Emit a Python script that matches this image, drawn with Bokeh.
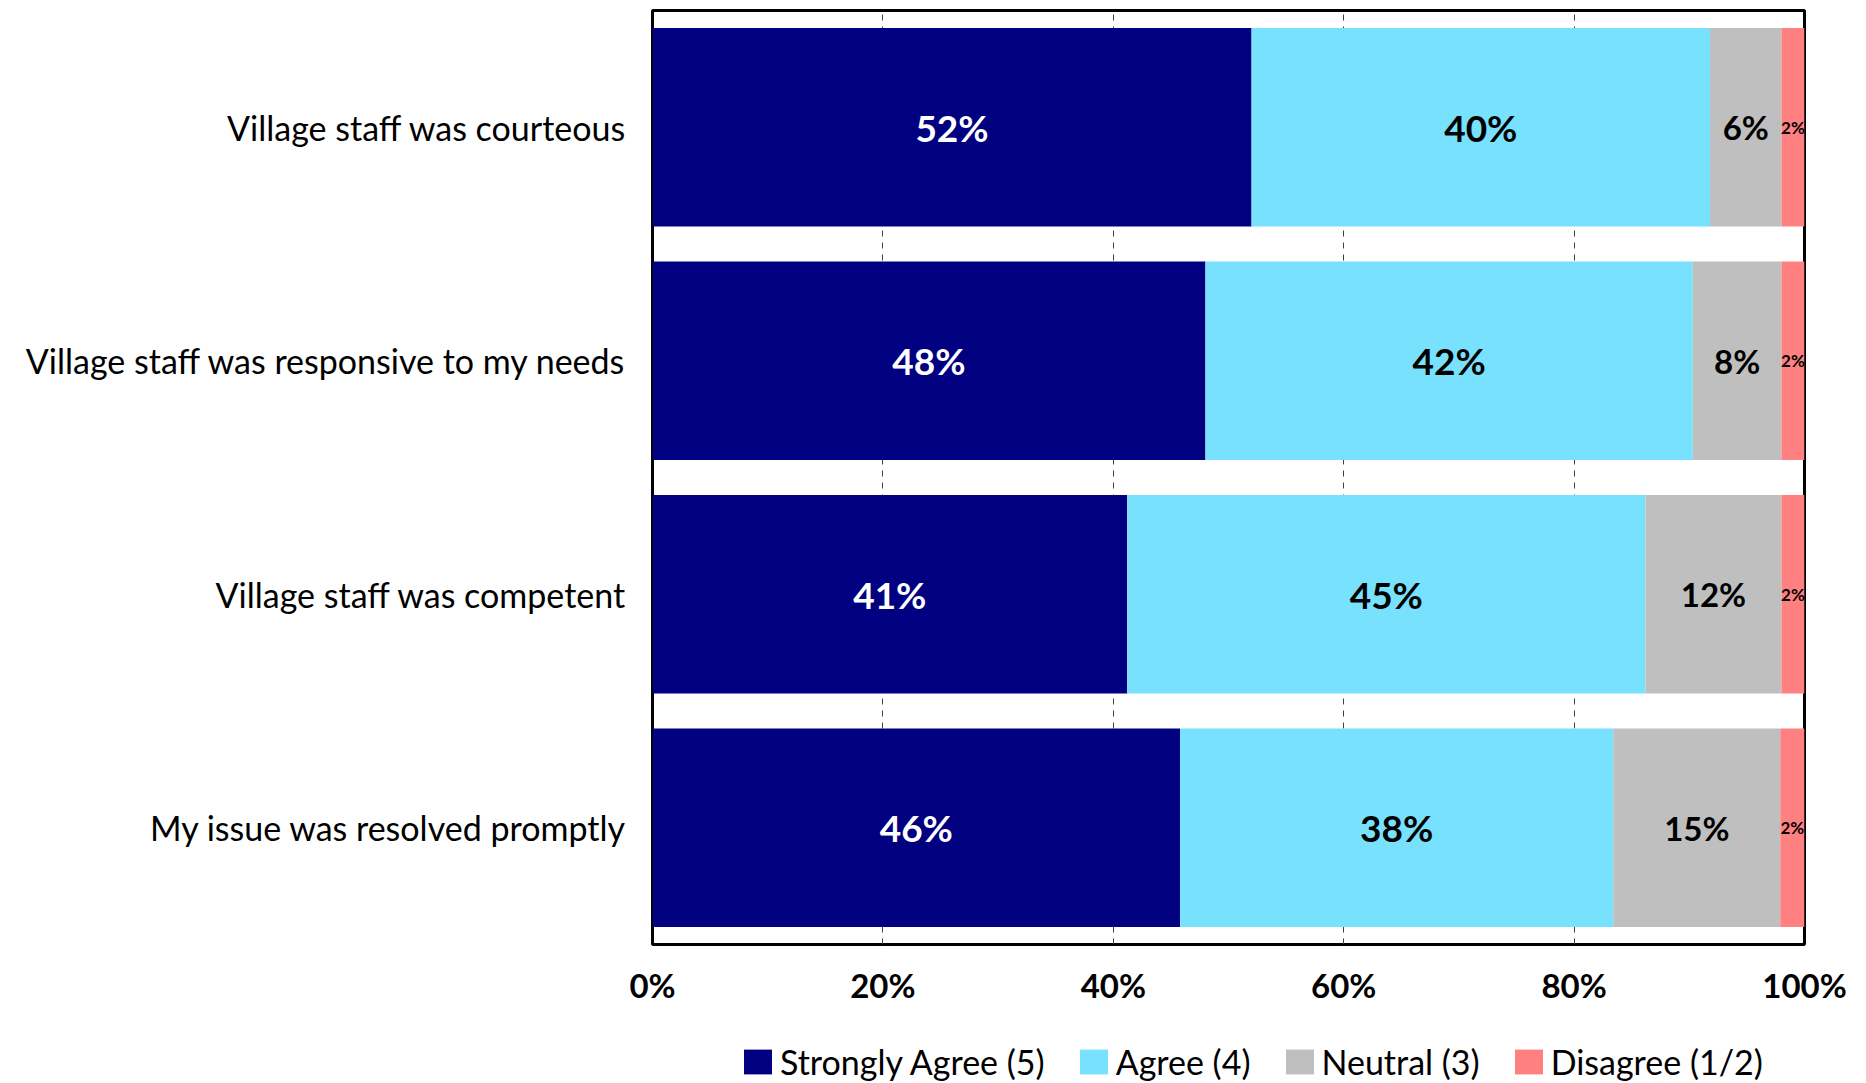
from bokeh.plotting import figure
from bokeh.layouts import column
from bokeh.models import (ColumnDataSource, FactorRange, Range1d, Legend, LegendItem,
                          FixedTicker, PrintfTickFormatter)
from bokeh.core.properties import value
from bokeh.embed import file_html
from bokeh.resources import INLINE

categories = ["Village staff was courteous",
              "Village staff was responsive to my needs",
              "Village staff was competent",
              "My issue was resolved promptly"]
strongly_agree = [52.0, 48.0, 41.2, 45.8]
agree = [39.8, 42.3, 45.0, 37.6]
neutral = [6.2, 7.7, 11.8, 14.5]
disagree = [2.0, 2.0, 2.0, 2.1]
series_names = ["Strongly Agree (5)", "Agree (4)", "Neutral (3)", "Disagree (1/2)"]
series_keys = ["sa", "ag", "ne", "di"]
colors = ["#000080", "#77E1FE", "#BFBFBF", "#FF8080"]
label_colors = ["white", "black", "black", "black"]
label_sizes = ["37px", "37px", "33px", "17px"]
ticks = [0, 20, 40, 60, 80, 100]

FONT = "Lato"

source = ColumnDataSource(dict(cat=categories, sa=strongly_agree, ag=agree,
                               ne=neutral, di=disagree))

p = figure(width=1866, height=1014, output_backend="svg", toolbar_location=None,
           y_range=FactorRange(*reversed(categories), range_padding=0, factor_padding=0),
           x_range=Range1d(0, 100),
           min_border_left=652, min_border_right=62, min_border_top=10,
           min_border_bottom=70)

renderers = p.hbar_stack(series_keys, y="cat", height=0.85, color=colors,
                         line_color=None, source=source)

# segment labels
series = [strongly_agree, agree, neutral, disagree]
for k, vals in enumerate(series):
    xs, ys, txt = [], [], []
    for i, c in enumerate(categories):
        left = sum(series[j][i] for j in range(k))
        xs.append(left + vals[i] / 2)
        ys.append(c)
        txt.append(f"{int(vals[i] + 0.5)}%")
    p.text(x=xs, y=ys, text=txt, text_align="center", text_baseline="middle",
           text_color=label_colors[k], text_font=value(FONT), text_font_style="bold",
           text_font_size=label_sizes[k])

p.outline_line_color = "black"
p.outline_line_width = 3
p.background_fill_color = "white"
p.border_fill_color = "white"

p.ygrid.grid_line_color = None
p.xgrid.ticker = FixedTicker(ticks=ticks)
p.xgrid.grid_line_color = "#404040"
p.xgrid.grid_line_dash = "6 6"
p.xgrid.grid_line_width = 1

p.xaxis.ticker = FixedTicker(ticks=ticks)
p.xaxis.formatter = PrintfTickFormatter(format="%d%%")
p.xaxis.axis_line_color = None
p.xaxis.major_tick_line_color = None
p.xaxis.minor_tick_line_color = None
p.xaxis.major_label_text_font = FONT
p.xaxis.major_label_text_font_style = "bold"
p.xaxis.major_label_text_font_size = "33px"
p.xaxis.major_label_text_color = "black"
p.xaxis.major_label_standoff = 14

p.yaxis.axis_line_color = None
p.yaxis.major_tick_line_color = None
p.yaxis.minor_tick_line_color = None
p.yaxis.major_label_text_font = FONT
p.yaxis.major_label_text_font_size = "34px"
p.yaxis.major_label_text_color = "black"
p.yaxis.major_label_standoff = 20

# legend strip underneath the chart
lg = figure(width=1866, height=69, output_backend="svg", toolbar_location=None,
            x_range=Range1d(0, 1), y_range=Range1d(0, 1),
            min_border_left=0, min_border_right=0, min_border_top=0,
            min_border_bottom=0)
lg.axis.visible = False
lg.grid.grid_line_color = None
lg.outline_line_color = None
lg.background_fill_color = "white"
lg.border_fill_color = "white"
swatches = [lg.rect(x=[-5], y=[-5], width=1, height=1, fill_color=c, line_color=None)
            for c in colors]
items = [LegendItem(label=n, renderers=[r]) for n, r in zip(series_names, swatches)]
legend = Legend(items=items, orientation="horizontal", location=(88, 1),
                label_text_font=FONT, label_text_font_size="34px",
                label_text_color="black",
                glyph_width=35, glyph_height=31, label_standoff=5, spacing=31,
                padding=0, margin=0, border_line_color=None,
                background_fill_alpha=0)
lg.add_layout(legend, "center")

layout = column(p, lg, spacing=0)
open("out.html", "w").write(file_html(layout, INLINE))
